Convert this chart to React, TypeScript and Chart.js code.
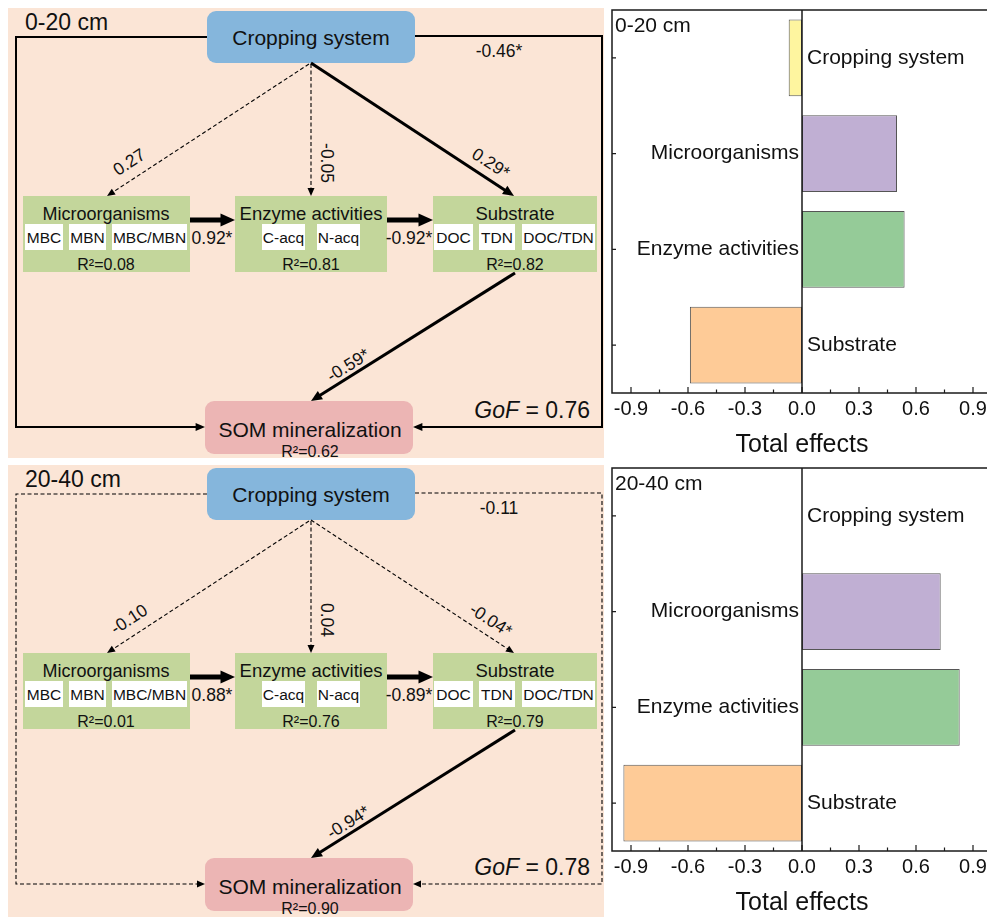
import React, { useEffect, useRef } from "react";
import { Chart, registerables } from "chart.js";

Chart.register(...registerables);

const FONT = '"Liberation Sans", Arial, Helvetica, sans-serif';
Chart.defaults.font.family = FONT;

// ---------- bar chart data ----------
const categories = ["Cropping system", "Microorganisms", "Enzyme activities", "Substrate"];
const effects020 = [-0.07, 0.5, 0.54, -0.59];
const effects2040 = [0.0, 0.73, 0.83, -0.94];
const xTickValues = [-0.9, -0.6, -0.3, 0, 0.3, 0.6, 0.9];
const xMinorValues = [-0.75, -0.45, -0.15, 0.15, 0.45, 0.75];
const barColors = ["#FEF59F", "#C0AFD3", "#95CB98", "#FECB97"];
const depths = ["0-20 cm", "20-40 cm"];

// ---------- path model data ----------
// order: CS->Mic, CS->Enz, CS->Sub, Mic->Enz, Enz->Sub, Sub->SOM, CS->SOM
const coef020 = ["0.27", "-0.05", "0.29*", "0.92*", "-0.92*", "-0.59*", "-0.46*"];
const coef2040 = ["-0.10", "0.04", "-0.04*", "0.88*", "-0.89*", "-0.94*", "-0.11"];
const solid020 = [false, false, true, true, true, true, true];
const solid2040 = [false, false, false, true, true, true, false];
const r2020 = ["0.08", "0.81", "0.82", "0.62"];
const r22040 = ["0.01", "0.76", "0.79", "0.90"];
const gofValues = ["0.76", "0.78"];
const micVars = ["MBC", "MBN", "MBC/MBN"];
const enzVars = ["C-acq", "N-acq"];
const subVars = ["DOC", "TDN", "DOC/TDN"];

function EffectChart({ values, depth, axisH }: { values: number[]; depth: string; axisH: number }) {
  const ref = useRef<HTMLCanvasElement | null>(null);
  useEffect(() => {
    if (!ref.current) return;
    const decor = {
      id: "decor",
      afterDatasetsDraw(chart: any) {
        const { ctx, chartArea: a, scales } = chart;
        const x = scales.x;
        const y = scales.y;
        ctx.save();
        ctx.strokeStyle = "#1a1a1a";
        ctx.lineWidth = 1.5;
        ctx.strokeRect(a.left, a.top, a.right - a.left, a.bottom - a.top);
        const zx = x.getPixelForValue(0);
        ctx.beginPath();
        ctx.moveTo(zx, a.top);
        ctx.lineTo(zx, a.bottom);
        ctx.stroke();
        ctx.lineWidth = 1.2;
        ctx.beginPath();
        xTickValues.forEach((v) => {
          const px = x.getPixelForValue(v);
          ctx.moveTo(px, a.bottom);
          ctx.lineTo(px, a.bottom - 6);
        });
        xMinorValues.forEach((v) => {
          const px = x.getPixelForValue(v);
          ctx.moveTo(px, a.bottom);
          ctx.lineTo(px, a.bottom - 3.5);
        });
        categories.forEach((_, i) => {
          const py = y.getPixelForValue(i);
          ctx.moveTo(a.left, py);
          ctx.lineTo(a.left + 4, py);
        });
        ctx.stroke();
        ctx.fillStyle = "#111";
        ctx.font = `21px ${FONT}`;
        ctx.textBaseline = "middle";
        values.forEach((v, i) => {
          const py = y.getPixelForValue(i);
          if (v <= 0) {
            ctx.textAlign = "left";
            ctx.fillText(categories[i], zx + 5, py);
          } else {
            ctx.textAlign = "right";
            ctx.fillText(categories[i], zx - 3, py);
          }
        });
        ctx.textAlign = "left";
        ctx.textBaseline = "alphabetic";
        ctx.fillText(depth, a.left + 3, a.top + 22);
        ctx.restore();
      },
    };
    const chart = new Chart(ref.current, {
      type: "bar",
      data: {
        labels: categories,
        datasets: [
          {
            data: values,
            backgroundColor: barColors,
            borderColor: "#555555",
            borderWidth: 1,
            borderSkipped: false,
            barPercentage: 0.8,
            categoryPercentage: 1.0,
          },
        ],
      },
      options: {
        animation: false,
        responsive: false,
        maintainAspectRatio: false,
        devicePixelRatio: 1,
        indexAxis: "y",
        layout: { padding: { left: 12, right: 8, top: 10, bottom: 0 } },
        plugins: { legend: { display: false }, tooltip: { enabled: false } },
        scales: {
          x: {
            type: "linear",
            min: -1,
            max: 1,
            afterBuildTicks: (s: any) => {
              s.ticks = xTickValues.map((v) => ({ value: v }));
            },
            ticks: {
              font: { size: 20, family: FONT },
              color: "#111",
              padding: 4,
              maxRotation: 0,
              autoSkip: false,
              callback: (v: any) => Number(v).toFixed(1),
            },
            grid: { display: false, drawTicks: false },
            border: { display: false },
            title: {
              display: true,
              text: "Total effects",
              font: { size: 25, family: FONT },
              color: "#111",
              padding: 0,
            },
            afterFit: (s: any) => {
              s.height = axisH;
            },
          },
          y: {
            type: "category",
            ticks: { display: false },
            grid: { display: false, drawTicks: false },
            border: { display: false },
            afterFit: (s: any) => {
              s.width = 0;
            },
          },
        },
      },
      plugins: [decor],
    } as any);
    return () => chart.destroy();
  }, [values, depth, axisH]);
  return <canvas ref={ref} width={400} height={10 + 383 + axisH} style={{ display: "block" }} />;
}

type Pt = [number, number];

function Arrow({ pts, w, dashed }: { pts: Pt[]; w: number; dashed: boolean }) {
  const lw = dashed ? 1.1 : w;
  const L = dashed ? 8 : 6 + 1.7 * w;
  const W = dashed ? 7 : 5 + 1.6 * w;
  const n = pts.length;
  const [x2, y2] = pts[n - 1];
  const [x1, y1] = pts[n - 2];
  const d = Math.hypot(x2 - x1, y2 - y1);
  const ux = (x2 - x1) / d;
  const uy = (y2 - y1) / d;
  const bx = x2 - ux * L;
  const by = y2 - uy * L;
  const shaft: Pt[] = [...pts.slice(0, n - 1), [x2 - ux * L * 0.8, y2 - uy * L * 0.8]];
  const poly: Pt[] = [
    [x2, y2],
    [bx - (uy * W) / 2, by + (ux * W) / 2],
    [bx + (uy * W) / 2, by - (ux * W) / 2],
  ];
  return (
    <g>
      <polyline
        points={shaft.map((p) => p.join(",")).join(" ")}
        fill="none"
        stroke="#000"
        strokeWidth={lw}
        strokeDasharray={dashed ? "4 2.5" : undefined}
        strokeLinejoin="miter"
      />
      <polygon points={poly.map((p) => p.join(",")).join(" ")} fill="#000" />
    </g>
  );
}

function Label({ x, y, text, rot = 0, size = 17.5 }: { x: number; y: number; text: string; rot?: number; size?: number }) {
  return (
    <text
      transform={`translate(${x},${y}) rotate(${rot})`}
      textAnchor="middle"
      dominantBaseline="central"
      fontSize={size}
      fill="#111"
    >
      {text}
    </text>
  );
}

function VarBoxes({ spans, names, y }: { spans: [number, number][]; names: string[]; y: number }) {
  return (
    <g>
      {names.map((nm, i) => (
        <g key={nm}>
          <rect x={spans[i][0]} y={y} width={spans[i][1] - spans[i][0]} height={26} fill="#fff" />
          <text x={(spans[i][0] + spans[i][1]) / 2} y={y + 19} textAnchor="middle" fontSize={15.5} fill="#111">
            {nm}
          </text>
        </g>
      ))}
    </g>
  );
}

function PathDiagram({
  dy,
  depth,
  coefs,
  solid,
  r2,
  gof,
  panelH,
}: {
  dy: number;
  depth: string;
  coefs: string[];
  solid: boolean[];
  r2: string[];
  gof: string;
  panelH: number;
}) {
  const Y = (v: number) => v + dy;
  const widths = [2, 2, 3, 5, 5, 3, 2];
  return (
    <g>
      <rect x={8} y={Y(8)} width={596} height={panelH} fill="#FBE5D6" />
      <text x={25} y={Y(30)} fontSize={23} fill="#111">
        {depth}
      </text>
      {/* nodes */}
      <rect x={207} y={Y(11)} width={208} height={52} rx={9} fill="#85B6DC" />
      <text x={311} y={Y(45)} textAnchor="middle" fontSize={21} fill="#111">
        Cropping system
      </text>

      <rect x={23} y={Y(196)} width={167} height={76} fill="#C3D69B" />
      <text x={106} y={Y(220)} textAnchor="middle" fontSize={18} fill="#111">
        Microorganisms
      </text>
      <VarBoxes spans={[[25, 63], [69, 106], [112, 187]]} names={micVars} y={Y(224)} />
      <text x={106} y={Y(270)} textAnchor="middle" fontSize={16} fill="#111">
        {`R²=${r2[0]}`}
      </text>

      <rect x={235} y={Y(196)} width={152} height={76} fill="#C3D69B" />
      <text x={311} y={Y(220)} textAnchor="middle" fontSize={18.5} fill="#111">
        Enzyme activities
      </text>
      <VarBoxes spans={[[262, 305], [317, 360]]} names={enzVars} y={Y(224)} />
      <text x={311} y={Y(270)} textAnchor="middle" fontSize={16} fill="#111">
        {`R²=${r2[1]}`}
      </text>

      <rect x={433} y={Y(196)} width={164} height={76} fill="#C3D69B" />
      <text x={515} y={Y(220)} textAnchor="middle" fontSize={18.5} fill="#111">
        Substrate
      </text>
      <VarBoxes spans={[[434, 473], [479, 515], [522, 595]]} names={subVars} y={Y(224)} />
      <text x={515} y={Y(270)} textAnchor="middle" fontSize={16} fill="#111">
        {`R²=${r2[2]}`}
      </text>

      <rect x={205} y={Y(401)} width={208} height={53} rx={9} fill="#ECB5B4" />
      <text x={310} y={Y(437)} textAnchor="middle" fontSize={21} fill="#111">
        SOM mineralization
      </text>
      <text x={310} y={Y(457)} textAnchor="middle" fontSize={16} fill="#111">
        {`R²=${r2[3]}`}
      </text>

      {/* paths */}
      <Arrow pts={[[309, Y(64)], [107, Y(196)]]} w={widths[0]} dashed={!solid[0]} />
      <Arrow pts={[[311, Y(64)], [311, Y(196)]]} w={widths[1]} dashed={!solid[1]} />
      <Arrow pts={[[311, Y(63)], [514, Y(196)]]} w={widths[2]} dashed={!solid[2]} />
      <Arrow pts={[[190, Y(220)], [235, Y(220)]]} w={widths[3]} dashed={!solid[3]} />
      <Arrow pts={[[387, Y(220)], [433, Y(220)]]} w={widths[4]} dashed={!solid[4]} />
      <Arrow pts={[[515, Y(273)], [311, Y(401)]]} w={widths[5]} dashed={!solid[5]} />
      <Arrow pts={[[207, Y(37)], [16, Y(37)], [16, Y(427)], [205, Y(427)]]} w={widths[6]} dashed={!solid[6]} />
      <Arrow pts={[[415, Y(36)], [602, Y(36)], [602, Y(427)], [413, Y(427)]]} w={widths[6]} dashed={!solid[6]} />

      {/* coefficients */}
      <Label x={129} y={Y(162)} rot={-33} text={coefs[0]} />
      <Label x={327} y={Y(163)} rot={90} text={coefs[1]} />
      <Label x={491} y={Y(163)} rot={33} text={coefs[2]} />
      <Label x={212} y={Y(238)} text={coefs[3]} />
      <Label x={409} y={Y(238)} text={coefs[4]} />
      <Label x={348} y={Y(365)} rot={-32} text={coefs[5]} />
      <Label x={499} y={Y(51)} text={coefs[6]} />

      <text x={590} y={Y(418)} textAnchor="end" fontSize={23} fill="#111">
        <tspan fontStyle="italic">GoF</tspan>
        {` = ${gof}`}
      </text>
    </g>
  );
}

export default function App() {
  return (
    <div
      style={{
        position: "fixed",
        left: 0,
        top: 0,
        width: 987,
        height: 918,
        overflow: "hidden",
        background: "#fff",
        fontFamily: FONT,
      }}
    >
      <svg
        width={610}
        height={918}
        style={{ position: "absolute", left: 0, top: 0, fontFamily: FONT }}
      >
        <PathDiagram dy={0} depth={depths[0]} coefs={coef020} solid={solid020} r2={r2020} gof={gofValues[0]} panelH={450} />
        <PathDiagram dy={457} depth={depths[1]} coefs={coef2040} solid={solid2040} r2={r22040} gof={gofValues[1]} panelH={452} />
      </svg>
      <div style={{ position: "absolute", left: 600, top: 0 }}>
        <EffectChart values={effects020} depth={depths[0]} axisH={67} />
      </div>
      <div style={{ position: "absolute", left: 600, top: 458 }}>
        <EffectChart values={effects2040} depth={depths[1]} axisH={67} />
      </div>
    </div>
  );
}
